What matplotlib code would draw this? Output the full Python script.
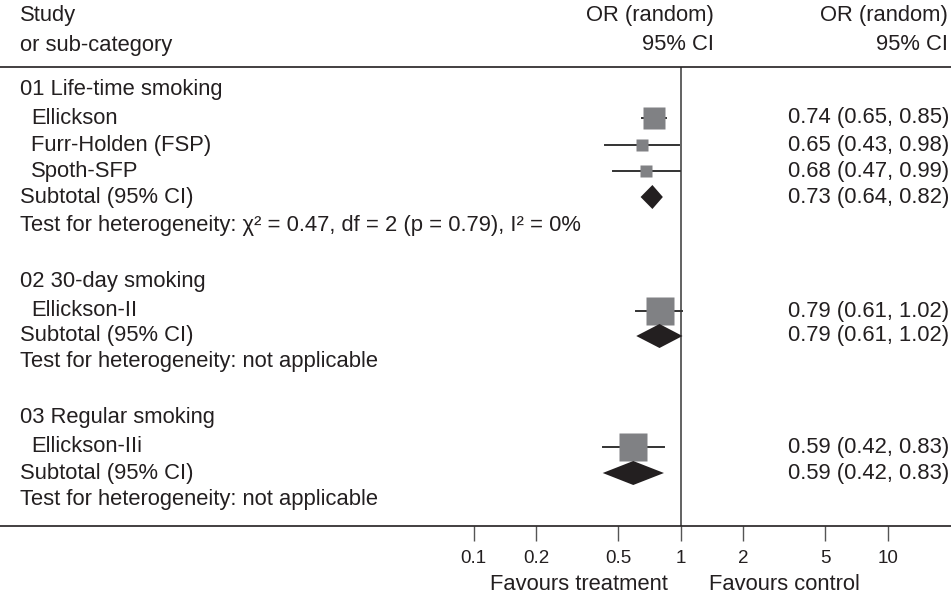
import matplotlib
matplotlib.use("Agg")
import matplotlib.pyplot as plt
from matplotlib.patches import Polygon
import numpy as np

# ---------------- data ----------------
groups = ["01 Life-time smoking", "02 30-day smoking", "03 Regular smoking"]
studies = ["Ellickson", "Furr-Holden (FSP)", "Spoth-SFP", "Ellickson-II", "Ellickson-IIi"]
study_group = [0, 0, 0, 1, 2]
study_or = [0.74, 0.65, 0.68, 0.79, 0.59]
study_lo = [0.65, 0.43, 0.47, 0.61, 0.42]
study_hi = [0.85, 0.98, 0.99, 1.02, 0.83]
study_weight = [64, 18, 18, 100, 100]
sub_or = [0.73, 0.79, 0.59]
sub_lo = [0.64, 0.61, 0.42]
sub_hi = [0.82, 1.02, 0.83]
het_text = ["Test for heterogeneity: \u03c7\u00b2 = 0.47, df = 2 (p = 0.79), I\u00b2 = 0%",
            "Test for heterogeneity: not applicable",
            "Test for heterogeneity: not applicable"]
tick_vals = [0.1, 0.2, 0.5, 1, 2, 5, 10]
tick_labels = ["0.1", "0.2", "0.5", "1", "2", "5", "10"]

# ---------------- layout (pixels) ----------------
W, H = 951, 596
FONT = "Liberation Sans"
FS = 15.8
TXT = "#231f20"
plt.rcParams['font.family'] = [FONT, 'DejaVu Sans']

study_y = [118, 145, 171, 311, 447]
group_y = [89, 281, 418]
sub_y = [197, 336, 473]
het_y = [226, 362, 499]
top_line, bot_line = 67, 526
x_one_px, px_per_dec = 680.7, 207.0

fig = plt.figure(figsize=(W / 100, H / 100), dpi=100)

# forest axes (log x, pixel y)
ax = fig.add_axes([0, (H - bot_line) / H, 1, (bot_line - top_line) / H])
ax.set_xscale("log")
ax.set_xlim(10 ** ((0 - x_one_px) / px_per_dec), 10 ** ((W - x_one_px) / px_per_dec))
ax.set_ylim(bot_line, top_line)
for s in ["left", "right"]:
    ax.spines[s].set_visible(False)
for s in ["top", "bottom"]:
    ax.spines[s].set_color("#231f20")
    ax.spines[s].set_linewidth(1.2)
ax.set_yticks([])
ax.set_xticks(tick_vals)
ax.set_xticklabels(tick_labels)
ax.xaxis.set_minor_locator(matplotlib.ticker.NullLocator())
ax.tick_params(axis="x", direction="out", length=11, width=1.0, color="#555555",
               labelsize=13.5, labelcolor=TXT, pad=6)
ax.patch.set_alpha(0)

ax.axvline(1, color="#555555", lw=1.3, zorder=1)

box_max_px = 28
for i in range(len(studies)):
    y = study_y[i]
    ax.plot([study_lo[i], study_hi[i]], [y, y], color="#333333", lw=1.4, zorder=2)
    side = box_max_px * np.sqrt(study_weight[i] / 100.0)
    ax.plot(study_or[i], y, marker="s", ms=side * 0.72, color="#808184",
            mec="none", zorder=3)

for g in range(len(groups)):
    y = sub_y[g]
    h = 12
    poly = Polygon([(sub_lo[g], y), (sub_or[g], y - h), (sub_hi[g], y), (sub_or[g], y + h)],
                   closed=True, facecolor="#231f20", edgecolor="none", zorder=3)
    ax.add_patch(poly)

# text axes (pixel coordinates)
tx = fig.add_axes([0, 0, 1, 1])
tx.set_xlim(0, W)
tx.set_ylim(H, 0)
tx.axis("off")
tx.patch.set_alpha(0)

def t(x, y, s, ha="left"):
    tx.text(x, y, s, ha=ha, va="center", fontsize=FS, color=TXT, family=[FONT, 'DejaVu Sans'])

t(20, 15, "Study")
t(20, 45, "or sub-category")
t(714, 15, "OR (random)", ha="right")
t(714, 45, "95% CI", ha="right")
t(948, 15, "OR (random)", ha="right")
t(948, 45, "95% CI", ha="right")

for g in range(len(groups)):
    t(20, group_y[g], groups[g])
    t(20, sub_y[g], "Subtotal (95% CI)")
    t(20, het_y[g], het_text[g])
    t(949, sub_y[g], f"{sub_or[g]:.2f} ({sub_lo[g]:.2f}, {sub_hi[g]:.2f})", ha="right")

for i in range(len(studies)):
    t(31, study_y[i], studies[i])
    t(949, study_y[i], f"{study_or[i]:.2f} ({study_lo[i]:.2f}, {study_hi[i]:.2f})", ha="right")

t(668, 585, "Favours treatment", ha="right")
t(709, 585, "Favours control", ha="left")

fig.savefig("out.png", dpi=100)
